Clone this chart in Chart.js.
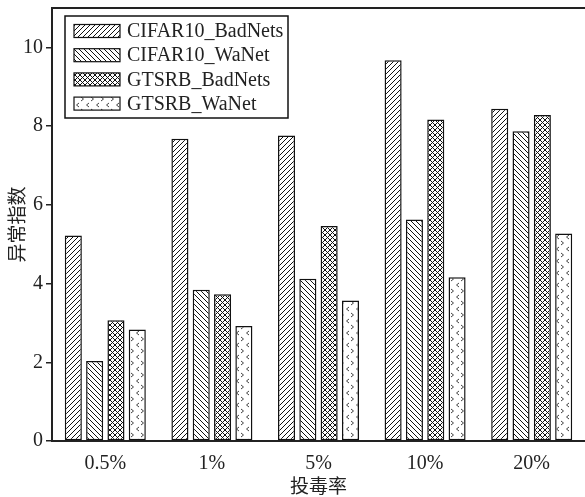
<!doctype html>
<html lang="zh">
<head>
<meta charset="utf-8">
<title>异常指数 vs 投毒率</title>
<style>
  html, body { margin: 0; padding: 0; background: #fff; }
  #wrap { width: 585px; height: 497px; }
</style>
</head>
<body>
<div id="wrap"><canvas id="chart" width="585" height="497"></canvas></div>
<script src="https://cdn.jsdelivr.net/npm/chart.js"></script>
<script>
// poisoning rates on the x axis
const rates = ['0.5%', '1%', '5%', '10%', '20%'];
const seriesNames = ['CIFAR10_BadNets', 'CIFAR10_WaNet', 'GTSRB_BadNets', 'GTSRB_WaNet'];

// anomaly index per rate
const cifarBadNets = [5.22, 7.68, 7.76, 9.67, 8.44];
const cifarWaNet   = [2.03, 3.84, 4.12, 5.63, 7.87];
const gtsrbBadNets = [3.07, 3.73, 5.46, 8.17, 8.28];
const gtsrbWaNet   = [2.83, 2.92, 3.57, 4.16, 5.27];

const yTicks = [0, 2, 4, 6, 8, 10];

const SERIF = '"Liberation Serif", "Times New Roman", serif';
const CJK = '"Noto Sans CJK SC", sans-serif';

// hatch fills
function makePattern(kind) {
  const c = document.createElement('canvas');
  const g = c.getContext('2d');
  if (kind === 'fwd' || kind === 'back' || kind === 'cross') {
    const s = 5;
    c.width = s; c.height = s;
    g.fillStyle = '#fff';
    g.fillRect(0, 0, s, s);
    g.strokeStyle = '#111';
    g.lineWidth = 1;
    if (kind === 'fwd' || kind === 'cross') {
      g.beginPath();
      g.moveTo(-1, s + 1); g.lineTo(s + 1, -1);
      g.moveTo(-1, 1); g.lineTo(1, -1);
      g.moveTo(s - 1, s + 1); g.lineTo(s + 1, s - 1);
      g.stroke();
    }
    if (kind === 'back' || kind === 'cross') {
      g.beginPath();
      g.moveTo(-1, -1); g.lineTo(s + 1, s + 1);
      g.moveTo(s - 1, -1); g.lineTo(s + 1, 1);
      g.moveTo(-1, s - 1); g.lineTo(1, s + 1);
      g.stroke();
    }
  } else {
    // staggered < > chevrons
    c.width = 10; c.height = 12;
    g.fillStyle = '#fff';
    g.fillRect(0, 0, 10, 12);
    g.strokeStyle = '#444';
    g.lineWidth = 1;
    g.beginPath();
    g.moveTo(1, 1); g.lineTo(3.5, 3); g.lineTo(1, 5);
    g.moveTo(9, 7); g.lineTo(6.5, 9); g.lineTo(9, 11);
    g.stroke();
  }
  return document.createElement('canvas').getContext('2d').createPattern(c, 'repeat');
}

const fills = [makePattern('fwd'), makePattern('back'), makePattern('cross'), makePattern('chev')];
const values = [cifarBadNets, cifarWaNet, gtsrbBadNets, gtsrbWaNet];

const datasets = seriesNames.map((name, i) => ({
  label: name,
  data: values[i],
  backgroundColor: fills[i],
  borderColor: '#111',
  borderWidth: 1.5,
  borderSkipped: false,
  categoryPercentage: 0.8,
  barPercentage: 0.8
}));

// boxed legend in the top-left of the plot, plus the top frame line
const frameAndLegend = {
  id: 'frameAndLegend',
  afterDraw(chart) {
    const ctx = chart.ctx;
    const a = chart.chartArea;
    ctx.save();
    ctx.strokeStyle = '#222';
    ctx.lineWidth = 2;
    ctx.beginPath();
    ctx.moveTo(a.left, a.top);
    ctx.lineTo(chart.width, a.top);
    ctx.stroke();

    const bx = 65, by = 16, bw = 223, bh = 102;
    ctx.fillStyle = '#fff';
    ctx.fillRect(bx, by, bw, bh);
    ctx.lineWidth = 1.5;
    ctx.strokeStyle = '#111';
    ctx.strokeRect(bx, by, bw, bh);

    ctx.font = '20px ' + SERIF;
    ctx.textBaseline = 'middle';
    chart.data.datasets.forEach((ds, i) => {
      const cy = 31 + i * 24.2;
      ctx.fillStyle = ds.backgroundColor;
      ctx.fillRect(74, cy - 6.5, 46, 13);
      ctx.lineWidth = 1.2;
      ctx.strokeStyle = '#111';
      ctx.strokeRect(74, cy - 6.5, 46, 13);
      ctx.fillStyle = '#222';
      ctx.fillText(ds.label, 127, cy + 1);
    });
    ctx.restore();
  }
};

new Chart(document.getElementById('chart'), {
  type: 'bar',
  data: { labels: rates, datasets },
  options: {
    responsive: false,
    animation: false,
    layout: { padding: { top: 8, right: 0, left: 0, bottom: 0 } },
    plugins: {
      legend: { display: false },
      tooltip: { enabled: false }
    },
    scales: {
      x: {
        grid: { display: false },
        border: { display: true, color: '#222', width: 2 },
        ticks: { color: '#222', font: { family: SERIF, size: 20 }, padding: 3 },
        title: {
          display: true, text: '投毒率', color: '#222',
          font: { family: CJK, size: 19 }, padding: { top: 0, bottom: 0 }
        },
        afterFit(scale) {
          scale.height = 56;
          scale.paddingLeft = 0; scale.paddingRight = 0;
        }
      },
      y: {
        min: 0,
        max: 11,
        afterBuildTicks(scale) { scale.ticks = yTicks.map(v => ({ value: v })); },
        grid: { drawOnChartArea: false, drawTicks: true, tickLength: 6, color: '#222', lineWidth: 1.5 },
        border: { display: true, color: '#222', width: 2 },
        ticks: { color: '#222', font: { family: SERIF, size: 20 }, padding: 3 },
        title: {
          display: true, text: '异常指数', color: '#222',
          font: { family: CJK, size: 19 }, padding: { top: 5, bottom: 0 }
        },
        afterFit(scale) {
          scale.width = 52;
          scale.paddingTop = 0; scale.paddingBottom = 0;
        }
      }
    }
  },
  plugins: [frameAndLegend]
});
</script>
</body>
</html>
